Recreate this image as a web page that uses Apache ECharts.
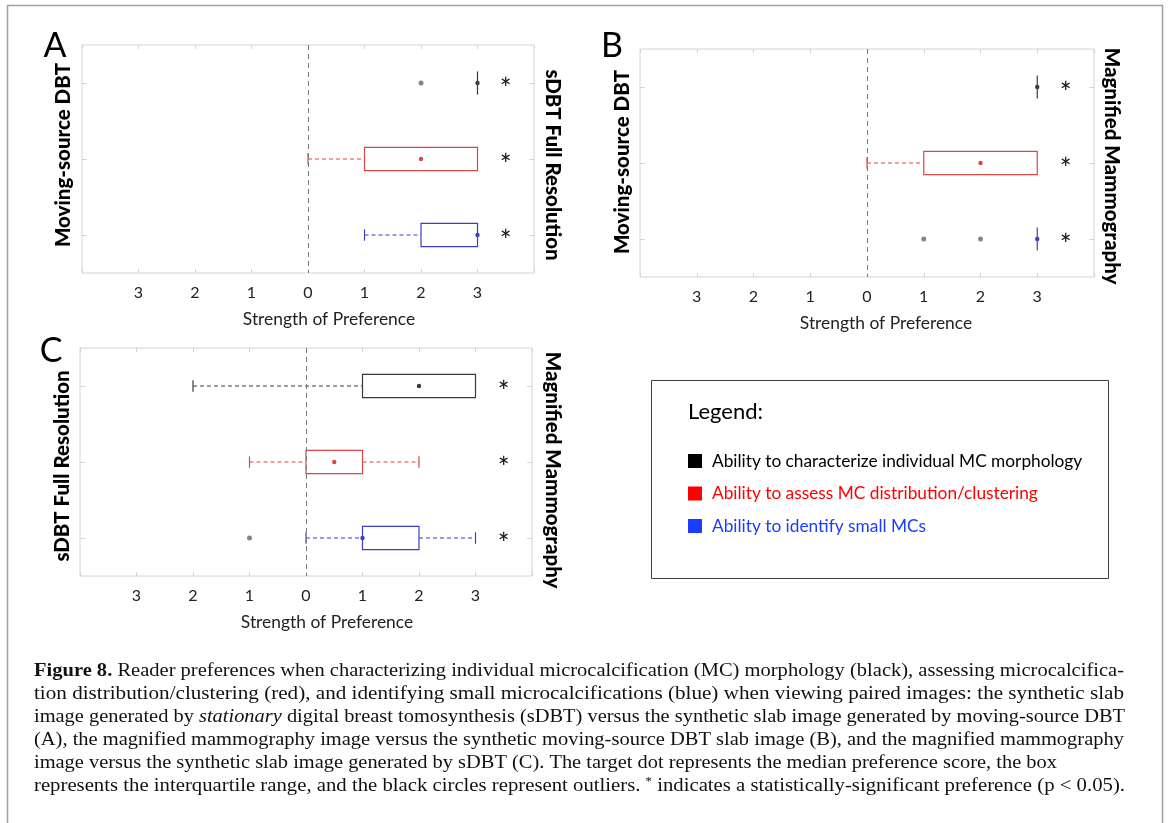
<!DOCTYPE html>
<html><head><meta charset="utf-8">
<script src="https://cdn.jsdelivr.net/npm/echarts@6/dist/echarts.min.js"></script>
<style>html,body{margin:0;padding:0;background:#fff}#chart{width:1170px;height:823px}</style>
</head><body><div id="chart"></div>
<script>
// ---------------- data ----------------
const rowNames = ['Ability to characterize individual MC morphology', 'Ability to assess MC distribution/clustering', 'Ability to identify small MCs'];
const boxColors = ['#3a3a3a', '#dc4646', '#3c3cc8'];
const legendColors = ['#000000', '#ff0000', '#1a3cff'];
const xTickValues = [-4, -3, -2, -1, 0, 1, 2, 3, 4];
const xTickLabels = ['', '3', '2', '1', '0', '1', '2', '3', ''];
const panelLetters = ['A', 'B', 'C'];
const leftLabels = ['Moving-source DBT', 'Moving-source DBT', 'sDBT Full Resolution'];
const rightLabels = ['sDBT Full Resolution', 'Magnified Mammography', 'Magnified Mammography'];
const xAxisTitle = 'Strength of Preference';
// [min, Q1, median, Q3, max] per row (top to bottom)
const boxA = [[3, 3, 3, 3, 3], [0, 1, 2, 3, 3], [1, 2, 3, 3, 3]];
const boxB = [[3, 3, 3, 3, 3], [0, 1, 2, 3, 3], [3, 3, 3, 3, 3]];
const boxC = [[-2, 1, 2, 3, 3], [-1, 0, 0.5, 1, 2], [0, 1, 1, 2, 3]];
// outliers: [value, rowIndex]
const outliersA = [[2, 0]];
const outliersB = [[1, 2], [2, 2]];
const outliersC = [[-1, 2]];
// significance flags per row
const sigA = [1, 1, 1];
const sigB = [1, 1, 1];
const sigC = [1, 1, 1];
const legendTitle = 'Legend:';
const captionLines = [
  [['Figure 8.', 'b'], [' Reader preferences when characterizing individual microcalcification (MC) morphology (black), assessing microcalcifica-', 'n']],
  [['tion distribution/clustering (red), and identifying small microcalcifications (blue) when viewing paired images: the synthetic slab', 'n']],
  [['image generated by ', 'n'], ['stationary', 'i'], [' digital breast tomosynthesis (sDBT) versus the synthetic slab image generated by moving-source DBT', 'n']],
  [['(A), the magnified mammography image versus the synthetic moving-source DBT slab image (B), and the magnified mammography', 'n']],
  [['image versus the synthetic slab image generated by sDBT (C). The target dot represents the median preference score, the box', 'n']],
  [['represents the interquartile range, and the black circles represent outliers. ', 'n'], ['*', 'sup'], [' indicates a statistically-significant preference (p < 0.05).', 'n']]
];

// ---------------- layout ----------------
const panels = [
  { box: boxA, out: outliersA, sig: sigA, grid: { left: 82, top: 45, width: 452, height: 228 },
    letter: [55, 46], title: [329, 319], lLab: [63, 155], rLab: [553, 165] },
  { box: boxB, out: outliersB, sig: sigB, grid: { left: 640, top: 49, width: 454, height: 228 },
    letter: [612, 46], title: [886, 323], lLab: [622, 162], rLab: [1112, 166] },
  { box: boxC, out: outliersC, sig: sigC, grid: { left: 80, top: 348, width: 452, height: 228 },
    letter: [51, 351], title: [327, 622], lLab: [62, 466], rLab: [553, 470] }
];
const SANS = 'Lato';
const SERIF = 'Liberation Serif';

function makeRender(sig) {
  return function (params, api) {
    const cat = api.value(0);
    const vals = [1, 2, 3, 4, 5].map(d => api.value(d));
    const p = vals.map(v => api.coord([v, cat]));
    const y = p[0][1];
    const band = api.size([0, 1])[1];
    const hh = band * 0.152;
    const ch = band * 0.075;
    const c = boxColors[cat];
    const ch_ = [];
    const lw = 1.2;
    if (vals[0] < vals[1]) {
      ch_.push({ type: 'line', shape: { x1: p[0][0], y1: y, x2: p[1][0], y2: y }, style: { stroke: c, lineWidth: lw, lineDash: [4, 3] } });
      ch_.push({ type: 'line', shape: { x1: p[0][0], y1: y - ch, x2: p[0][0], y2: y + ch }, style: { stroke: c, lineWidth: lw } });
    }
    if (vals[4] > vals[3]) {
      ch_.push({ type: 'line', shape: { x1: p[3][0], y1: y, x2: p[4][0], y2: y }, style: { stroke: c, lineWidth: lw, lineDash: [4, 3] } });
      ch_.push({ type: 'line', shape: { x1: p[4][0], y1: y - ch, x2: p[4][0], y2: y + ch }, style: { stroke: c, lineWidth: lw } });
    }
    if (p[3][0] - p[1][0] > 0.5) {
      ch_.push({ type: 'rect', shape: { x: p[1][0], y: y - hh, width: p[3][0] - p[1][0], height: 2 * hh }, style: { fill: 'transparent', stroke: c, lineWidth: lw } });
    } else {
      ch_.push({ type: 'line', shape: { x1: p[1][0], y1: y - hh, x2: p[1][0], y2: y + hh }, style: { stroke: c, lineWidth: lw } });
    }
    ch_.push({ type: 'circle', shape: { cx: p[2][0], cy: y, r: 2.2 }, style: { fill: c } });
    if (sig[cat]) {
      const sp = api.coord([3.5, cat]);
      ch_.push({ type: 'text', x: sp[0], y: sp[1] + 7, style: { text: '*', fontFamily: SANS, fontSize: 28, fill: '#111', align: 'center', verticalAlign: 'middle' } });
    }
    return { type: 'group', children: ch_ };
  };
}

const grids = [], xAxes = [], yAxes = [], series = [], graphics = [];
const tickStyle = { color: '#d4d4d4' };
panels.forEach((pn, g) => {
  grids.push(Object.assign({ show: true, borderColor: '#d4d4d4', borderWidth: 1, backgroundColor: '#fff' }, pn.grid));
  const xBase = { gridIndex: g, type: 'value', min: -4, max: 4, interval: 1, axisLine: { show: false, onZero: false }, splitLine: { show: false },
    axisTick: { show: true, inside: true, length: 4, lineStyle: tickStyle } };
  xAxes.push(Object.assign({}, xBase, { position: 'bottom',
    axisLabel: { margin: 12, fontFamily: SANS, fontSize: 16, color: '#222',
      formatter: v => xTickLabels[xTickValues.indexOf(v)] } }));
  xAxes.push(Object.assign({}, xBase, { position: 'top', axisLabel: { show: false } }));
  const yBase = { gridIndex: g, type: 'category', data: rowNames, inverse: true, axisLine: { show: false, onZero: false },
    axisTick: { show: true, inside: true, alignWithLabel: true, length: 5, lineStyle: tickStyle }, axisLabel: { show: false } };
  yAxes.push(Object.assign({}, yBase, { position: 'left' }));
  yAxes.push(Object.assign({}, yBase, { position: 'right' }));
  series.push({
    type: 'scatter', xAxisIndex: 2 * g, yAxisIndex: 2 * g, data: pn.out, symbolSize: 5, itemStyle: { color: '#666' }, silent: true,
    markLine: { symbol: 'none', silent: true, label: { show: false }, lineStyle: { color: '#7a7a7a', type: [5, 4], width: 1 }, data: [{ xAxis: 0 }] }
  });
  series.push({
    type: 'custom', xAxisIndex: 2 * g, yAxisIndex: 2 * g, renderItem: makeRender(pn.sig), silent: true, clip: false,
    encode: { x: [1, 2, 3, 4, 5], y: 0 },
    data: pn.box.map((b, i) => [i].concat(b))
  });
  graphics.push({ type: 'text', x: pn.letter[0], y: pn.letter[1], style: { text: panelLetters[g], fontFamily: SANS, fontSize: 34, fill: '#000', align: 'center', verticalAlign: 'middle' } });
  graphics.push({ type: 'text', x: pn.title[0], y: pn.title[1], style: { text: xAxisTitle, fontFamily: SANS, fontSize: 17.4, fill: '#222', align: 'center', verticalAlign: 'middle' } });
  graphics.push({ type: 'text', x: pn.lLab[0], y: pn.lLab[1], rotation: Math.PI / 2, style: { text: leftLabels[g], fontFamily: SANS, fontWeight: 900, fontSize: 20.5, fill: '#000', align: 'center', verticalAlign: 'middle' } });
  graphics.push({ type: 'text', x: pn.rLab[0], y: pn.rLab[1], rotation: -Math.PI / 2, style: { text: rightLabels[g], fontFamily: SANS, fontWeight: 900, fontSize: 20.5, fill: '#000', align: 'center', verticalAlign: 'middle' } });
});

// legend box
graphics.push({ type: 'rect', shape: { x: 651.5, y: 380.5, width: 457, height: 198 }, style: { fill: 'none', stroke: '#404040', lineWidth: 1 } });
graphics.push({ type: 'text', x: 688, y: 412, style: { text: legendTitle, fontFamily: SANS, fontSize: 22, fill: '#000', verticalAlign: 'middle' } });
rowNames.forEach((nm, i) => {
  const yy = 461 + i * 32.5;
  graphics.push({ type: 'rect', shape: { x: 688, y: yy - 7, width: 14, height: 14 }, style: { fill: legendColors[i] } });
  graphics.push({ type: 'text', x: 712, y: yy, style: { text: nm, fontFamily: SANS, fontSize: 17.3, fill: legendColors[i], verticalAlign: 'middle' } });
});

// outer frame
graphics.push({ type: 'rect', shape: { x: 7.5, y: 5.5, width: 1155, height: 840 }, style: { fill: 'none', stroke: '#a0a0a0', lineWidth: 1.5 } });

// caption
const CF = 19.5;
const fonts = {
  n: CF + 'px "' + SERIF + '"',
  b: 'bold ' + CF + 'px "' + SERIF + '"',
  i: 'italic ' + CF + 'px "' + SERIF + '"',
  sup: '12px "' + SERIF + '"'
};
const ctx = document.createElement('canvas').getContext('2d');
function measure(segs) {
  let w = 0;
  segs.forEach(s => { ctx.font = fonts[s[1]]; w += ctx.measureText(s[0]).width; });
  return w;
}
const captionTargets = [1090, 1090, 1091, 1090, 1023, 1091];
captionLines.forEach((segs, i) => {
  const w = measure(segs);
  const txt = segs.map(s => s[1] === 'n' ? s[0] : '{' + s[1] + '|' + s[0] + '}').join('');
  graphics.push({ type: 'text', x: 34, y: 671 + i * 23, scaleX: captionTargets[i] / w, originX: 0,
    style: { text: txt, fontFamily: SERIF, fontSize: CF, fill: '#111', verticalAlign: 'middle',
      rich: {
        b: { fontFamily: SERIF, fontSize: CF, fontWeight: 'bold', fill: '#111' },
        i: { fontFamily: SERIF, fontSize: CF, fontStyle: 'italic', fill: '#111' },
        sup: { fontFamily: SERIF, fontSize: 12, fill: '#111', verticalAlign: 'top', padding: [0, 0, 8, 0] }
      } } });
});

const chart = echarts.init(document.getElementById('chart'), null, { renderer: 'canvas' });
chart.setOption({
  animation: false,
  backgroundColor: '#fff',
  grid: grids, xAxis: xAxes, yAxis: yAxes, series: series, graphic: graphics
});
</script></body></html>
